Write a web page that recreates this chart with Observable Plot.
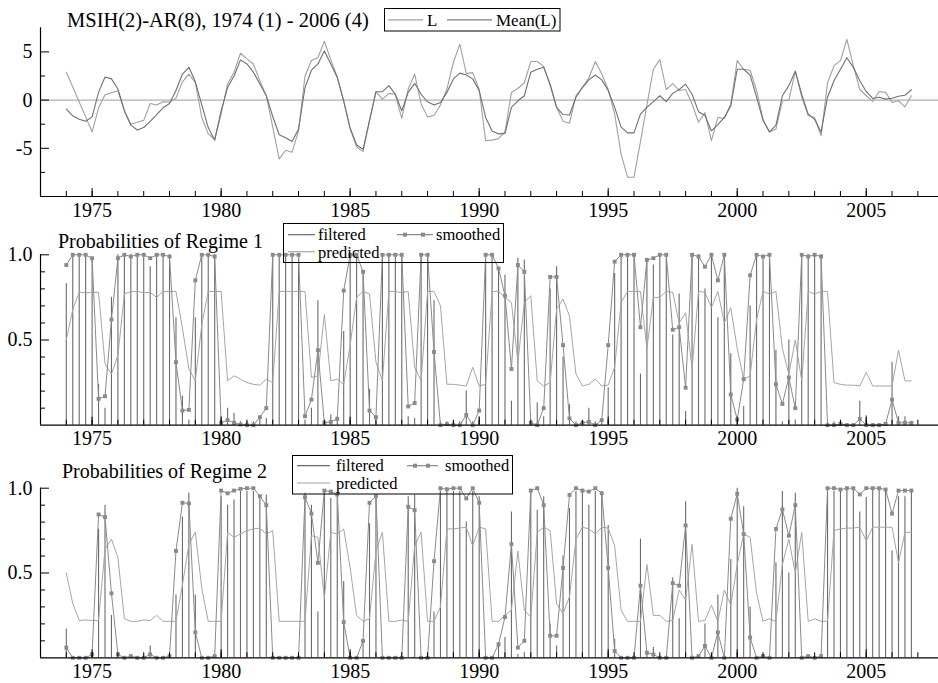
<!DOCTYPE html>
<html><head><meta charset="utf-8">
<script src="https://cdn.jsdelivr.net/npm/d3@7"></script>
<script src="https://cdn.jsdelivr.net/npm/@observablehq/plot@0.6"></script>
<style>
body{margin:0;background:#fff;}
#wrap{position:relative;width:938px;height:683px;overflow:hidden;background:#fff;font-family:'Liberation Serif','DejaVu Serif',serif;}
#wrap svg{position:absolute;left:0;display:block;}
#wrap svg text{font-family:'Liberation Serif','DejaVu Serif',serif;}
</style></head>
<body><div id="wrap"></div>
<script>
// quarterly data 1974(1) - 2006(4)
const startYear = 1974;
const L = [2.88,1.35,-0.2,-1.74,-3.3,-0.83,0.56,0.76,0.97,-1.1,-2.5,-2.3,-2.1,-0.35,-0.5,-0.17,-0.2,0.2,1.9,2.7,1.8,-1.8,-3.5,-4.06,-1.46,1.67,2.9,4.86,4.27,3.75,2.0,0.45,-2.8,-6.1,-5.2,-5.4,-3.2,2.5,4.1,4.4,6.1,4.2,2.4,-0.1,-3.0,-4.85,-5.35,-2.15,0.87,0.1,0.7,0.6,-1.9,1.15,2.7,-0.4,-1.74,-1.6,-0.5,1.15,3.9,5.8,2.75,2.85,1.1,-4.2,-4.15,-4.0,-3.3,0.8,1.2,1.8,4.0,4.0,3.5,1.5,-0.75,-2.2,-2.4,0.45,1.3,2.3,4.0,2.7,1.1,-1.45,-5.6,-8.0,-8.0,-4.3,-0.5,3.2,4.2,1.1,1.7,1.0,1.1,-0.4,-2.3,-1.3,-4.2,-1.8,-1.9,-0.4,4.1,3.2,3.1,1.0,-2.0,-3.3,-3.0,-0.07,0.0,3.0,0.3,-1.6,-1.8,-3.7,1.8,3.55,4.1,6.3,3.55,1.1,0.45,-0.14,0.9,0.8,-0.24,-0.07,-0.7,0.45];
const meanL = [-0.94,-1.63,-1.98,-2.2,-1.74,0.8,2.4,2.2,1.15,-1.1,-2.6,-3.1,-2.85,-2.2,-1.5,-0.8,-0.35,1.0,2.7,3.4,1.9,-0.5,-2.85,-4.17,-1.1,1.3,2.5,4.17,3.75,2.9,1.67,0.45,-1.7,-3.6,-3.9,-4.3,-3.0,1.3,3.1,3.75,5.1,3.75,2.35,-0.1,-2.9,-4.65,-5.1,-2.1,0.87,0.87,1.5,0.6,-1.1,0.8,1.74,0.6,-0.17,-0.5,-0.25,0.8,2.2,2.8,2.6,2.2,1.0,-1.8,-3.2,-3.5,-3.45,-0.75,-0.07,0.45,2.9,3.2,3.4,1.65,-0.75,-1.5,-1.55,0.3,1.3,2.1,2.6,2.1,1.0,-0.75,-2.8,-3.4,-3.4,-1.45,-0.75,-0.15,0.45,-0.15,0.7,1.1,1.65,0.6,-1.2,-1.6,-3.2,-2.55,-1.8,-0.6,3.2,3.2,2.6,0.3,-2.1,-3.3,-2.6,0.45,1.5,3.0,0.6,-1.45,-2.0,-3.3,0.3,2.0,3.2,4.4,3.4,2.0,0.9,0.17,0.3,0.1,0.2,0.4,0.5,1.07];

// Regime 1 probabilities
const filtered1 = [0.83,1,1,1,0.97,0.24,0.1,0.75,1,1,1,1,1,0.93,1,1,1,0.63,0.17,0.03,0.63,1,1,1,0.05,0.1,0.07,0.02,0.02,0.02,0.05,0.04,1,1,1,1,1,0.03,0.1,0.73,0.02,0.06,0.05,0.55,1,1,0.9,0.21,0.05,1,1,1,1,0.05,0.04,1,1,0.73,0.02,0.02,0.02,0.02,0.2,0.02,0.05,1,1,0.92,0.88,0.14,0.98,0.97,0.02,0.13,0.05,0.8,0.93,0.4,0.12,0.02,0.02,0.1,0.02,0.02,0.22,0.89,1,1,1,0.3,0.98,0.94,1,1,0.53,0.77,0.08,1,1,0.8,1,0.63,1,0.42,0.0,0.11,0.7,1,0.98,1,0.44,0.02,0.5,0.03,1,1,1,1,0.02,0.02,0.02,0.01,0.01,0.14,0.055,0.01,0.01,0.01,0.37,0.05,0.05,0.02];
const predicted1 = [0.5,0.68,0.78,0.777,0.78,0.78,0.36,0.3,0.41,0.77,0.785,0.785,0.777,0.78,0.75,0.785,0.785,0.785,0.57,0.33,0.26,0.59,0.785,0.785,0.785,0.26,0.29,0.27,0.25,0.24,0.235,0.27,0.25,0.785,0.785,0.785,0.785,0.785,0.28,0.29,0.65,0.26,0.27,0.24,0.47,0.75,0.785,0.77,0.37,0.26,0.785,0.785,0.777,0.785,0.34,0.26,0.785,0.785,0.7,0.24,0.24,0.235,0.23,0.34,0.23,0.24,0.785,0.785,0.75,0.72,0.37,0.72,0.76,0.26,0.23,0.25,0.68,0.74,0.64,0.3,0.23,0.24,0.27,0.23,0.235,0.34,0.72,0.785,0.785,0.785,0.45,0.75,0.75,0.785,0.78,0.6,0.66,0.33,0.785,0.78,0.69,0.785,0.6,0.69,0.45,0.27,0.29,0.62,0.785,0.77,0.785,0.45,0.3,0.5,0.26,0.785,0.77,0.785,0.785,0.25,0.24,0.235,0.235,0.23,0.31,0.23,0.23,0.23,0.23,0.44,0.26,0.26];
const smoothed1 = [0.94,1,1,1,0.98,0.155,0.17,0.62,0.98,1,0.99,1,1,0.98,1,1,0.99,0.37,0.086,0.09,0.85,1,1,0.99,0.014,0.03,0.014,0.004,0,0,0.047,0.1,1,1,1,1,1,0.053,0.15,0.44,0.014,0.02,0.037,0.79,1,1,0.9,0.086,0.047,1,1,1,1,0.11,0.13,1,1,0.43,0,0.006,0,0,0.06,0,0.086,1,1,0.92,0.76,0.33,0.94,0.9,0.014,0,0.1,0.87,0.87,0.47,0.04,0,0.014,0.02,0,0.03,0.47,0.96,1,1,1,0.575,0.97,0.98,1,1,0.56,0.575,0.22,1,0.99,0.93,1,0.85,1,0.18,0.033,0.27,0.88,1,0.99,1,0.24,0.125,0.28,0.1,1,0.99,1,0.99,0,0,0.008,0,0,0.037,0,0,0,0.008,0.15,0.014,0.014,0.014];

// Regime 2 probabilities
const filtered2 = [0.17,0,0,0,0.03,0.76,0.9,0.25,0,0,0,0,0,0.07,0,0,0,0.37,0.83,0.97,0.37,0,0,0,0.95,0.9,0.93,0.98,0.98,0.98,0.95,0.96,0,0,0,0,0,0.97,0.9,0.27,0.98,0.94,0.95,0.45,0,0,0.1,0.79,0.95,0,0,0,0,0.95,0.96,0,0,0.27,0.98,0.98,0.98,0.98,0.8,0.98,0.95,0,0,0.08,0.12,0.86,0.02,0.03,0.98,0.87,0.95,0.2,0.07,0.6,0.88,0.98,0.98,0.9,0.98,0.98,0.78,0.11,0,0,0,0.7,0.02,0.06,0,0,0.47,0.23,0.92,0,0,0.2,0,0.37,0,0.58,1,0.89,0.3,0,0.02,0,0.56,0.98,0.5,0.97,0,0,0,0,0.98,0.98,0.98,0.99,0.99,0.86,0.945,0.99,0.99,0.99,0.63,0.95,0.95,0.98];
const predicted2 = [0.5,0.32,0.22,0.223,0.22,0.22,0.64,0.7,0.59,0.23,0.215,0.215,0.223,0.22,0.25,0.215,0.215,0.215,0.43,0.67,0.74,0.41,0.215,0.215,0.215,0.74,0.71,0.73,0.75,0.76,0.765,0.73,0.75,0.215,0.215,0.215,0.215,0.215,0.72,0.71,0.35,0.74,0.73,0.76,0.53,0.25,0.215,0.23,0.63,0.74,0.215,0.215,0.223,0.215,0.66,0.74,0.215,0.215,0.3,0.76,0.76,0.765,0.77,0.66,0.77,0.76,0.215,0.215,0.25,0.28,0.63,0.28,0.24,0.74,0.77,0.75,0.32,0.26,0.36,0.7,0.77,0.76,0.73,0.77,0.765,0.66,0.28,0.215,0.215,0.215,0.55,0.25,0.25,0.215,0.22,0.4,0.34,0.67,0.215,0.22,0.31,0.215,0.4,0.31,0.55,0.73,0.71,0.38,0.215,0.23,0.215,0.55,0.7,0.5,0.74,0.215,0.23,0.215,0.215,0.75,0.76,0.765,0.765,0.77,0.69,0.77,0.77,0.77,0.77,0.56,0.74,0.74];
const smoothed2 = [0.06,0,0,0,0.02,0.845,0.83,0.38,0.02,0,0.01,0,0,0.02,0,0,0.01,0.63,0.914,0.91,0.15,0,0,0.01,0.986,0.97,0.986,0.996,1,1,0.953,0.9,0,0,0,0,0,0.947,0.85,0.56,0.986,0.98,0.963,0.21,0,0,0.1,0.914,0.953,0,0,0,0,0.89,0.87,0,0,0.57,1,0.994,1,1,0.94,1,0.914,0,0,0.08,0.24,0.67,0.06,0.1,0.986,1,0.9,0.13,0.13,0.53,0.96,1,0.986,0.98,1,0.97,0.53,0.04,0,0,0,0.425,0.03,0.02,0,0,0.44,0.425,0.78,0,0.01,0.07,0,0.15,0,0.82,0.967,0.73,0.12,0,0.01,0,0.76,0.875,0.72,0.9,0,0.01,0,0.01,1,1,0.992,1,1,0.963,1,1,1,0.992,0.85,0.986,0.986,0.986];

// axis ticks and labels
const yearLabels = [1975, 1980, 1985, 1990, 1995, 2000, 2005];
const yearMinor = d3.range(1974, 2008);
const levelTicks = [-5, 0, 5];
const levelMinor = [-7.5, -2.5, 2.5];
const probTicks = [0.5, 1.0];
const probMinor = [0.1, 0.2, 0.3, 0.4, 0.6, 0.7, 0.8, 0.9];

const mainTitle = "MSIH(2)-AR(8), 1974 (1) - 2006 (4)";
const regimeTitles = ["Probabilities of Regime 1", "Probabilities of Regime 2"];

const t = L.map((_, i) => startYear + i / 4);
const levels = t.map((x, i) => ({t: x, L: L[i], M: meanL[i]}));
const reg = (f, p, s) => t.map((x, i) => ({t: x, f: f[i], p: p[i], s: s[i]}));
const reg1 = reg(filtered1, predicted1, smoothed1);
const reg2 = reg(filtered2, predicted2, smoothed2);

const W = 938, ML = 40, MR = 0;
const FONT = "'Liberation Serif', 'DejaVu Serif', serif";

function panel({top, height, mt, mb, yDomain, ticks, minor, fmt, marks}) {
  const plotH = height - mt - mb, plotW = W - ML - MR;
  const svg = Plot.plot({
    width: W, height, marginLeft: ML, marginRight: MR, marginTop: mt, marginBottom: mb,
    x: {domain: [1973, 2007.8], label: null},
    y: {domain: yDomain, label: null},
    style: {fontFamily: FONT, fontSize: "20px", color: "#000", background: "transparent", overflow: "visible"},
    marks: [
      ...marks,
      Plot.ruleX(yearMinor, {stroke: "#000", strokeWidth: 1, insetTop: plotH - 5}),
      Plot.ruleX(yearLabels, {stroke: "#000", strokeWidth: 1, insetTop: plotH - 8}),
      Plot.ruleY(minor, {stroke: "#000", strokeWidth: 1, insetRight: plotW - 5}),
      Plot.ruleY(ticks, {stroke: "#000", strokeWidth: 1, insetRight: plotW - 9}),
      Plot.ruleX([1973], {stroke: "#000", strokeWidth: 1.2}),
      Plot.ruleY([yDomain[0]], {stroke: "#000", strokeWidth: 1.2}),
      Plot.axisX(yearLabels, {tickSize: 0, tickPadding: 6, tickFormat: d => String(d), fontSize: 20, label: null}),
      Plot.axisY(ticks, {tickSize: 0, tickPadding: 8, tickFormat: fmt, fontSize: 20, label: null})
    ]
  });
  svg.style.top = top + "px";
  return svg;
}

function probMarks(data) {
  return [
    Plot.ruleX(data, {x: "t", y1: 0, y2: "f", stroke: "#6a6a6a", strokeWidth: 1.1}),
    Plot.line(data, {x: "t", y: "p", stroke: "#a6a6a6", strokeWidth: 1}),
    Plot.line(data, {x: "t", y: "s", stroke: "#8a8a8a", strokeWidth: 1}),
    Plot.dot(data, {x: "t", y: "s", symbol: "square", r: 2.2, fill: "#8a8a8a", stroke: "none"})
  ];
}

const wrap = document.getElementById("wrap");
wrap.appendChild(panel({
  top: 0, height: 228, mt: 27.3, mb: 32, yDomain: [-10, 7.5], ticks: levelTicks, minor: levelMinor,
  fmt: d => String(d),
  marks: [
    Plot.ruleY([0], {stroke: "#b0b0b0", strokeWidth: 1.2}),
    Plot.line(levels, {x: "t", y: "L", stroke: "#a0a0a0", strokeWidth: 1.1}),
    Plot.line(levels, {x: "t", y: "M", stroke: "#707070", strokeWidth: 1.1})
  ]
}));
wrap.appendChild(panel({
  top: 228, height: 226, mt: 26.3, mb: 29.3, yDomain: [0, 1], ticks: probTicks, minor: probMinor,
  fmt: d => d.toFixed(1), marks: probMarks(reg1)
}));
wrap.appendChild(panel({
  top: 454, height: 229, mt: 33.7, mb: 25.7, yDomain: [0, 1], ticks: probTicks, minor: probMinor,
  fmt: d => d.toFixed(1), marks: probMarks(reg2)
}));

// titles and legends overlay
const NS = "http://www.w3.org/2000/svg";
const ov = document.createElementNS(NS, "svg");
ov.setAttribute("width", W); ov.setAttribute("height", 683);
ov.style.top = "0px"; ov.style.pointerEvents = "none";
wrap.appendChild(ov);
function el(name, attrs, text) {
  const e = document.createElementNS(NS, name);
  for (const k in attrs) e.setAttribute(k, attrs[k]);
  if (text != null) e.textContent = text;
  ov.appendChild(e);
  return e;
}
function txt(x, y, s, size) {
  const e = el("text", {x, y, "font-size": size, fill: "#000"}, s);
  e.style.fontFamily = FONT;
  return e;
}
function seg(x1, x2, y, stroke) {
  el("line", {x1, x2, y1: y, y2: y, stroke, "stroke-width": 1.2});
}
function sq(x, y, fill) {
  el("rect", {x: x - 2, y: y - 2, width: 4, height: 4, fill});
}

// top panel
txt(67, 27.3, mainTitle, 20.5);
el("rect", {x: 384.5, y: 8.5, width: 175.5, height: 22.5, fill: "none", stroke: "#000", "stroke-width": 1});
seg(388, 423, 19.8, "#a0a0a0");
txt(427, 25.8, "L", 17);
seg(447, 492, 19.8, "#808080");
txt(496, 25.8, "Mean(L)", 17);

// regime legends
function regimeLegend(bx, by, bw, bh, s1x1, s1x2, tx, r1b, r2b, smx1, smx2, smtx) {
  el("rect", {x: bx + 0.5, y: by + 0.5, width: bw, height: bh, fill: "none", stroke: "#000", "stroke-width": 1});
  seg(s1x1, s1x2, r1b - 4.8, "#6a6a6a");
  txt(tx, r1b, "filtered", 16.5);
  seg(s1x1, s1x2, r2b - 5.8, "#a6a6a6");
  txt(tx, r2b, "predicted", 16.5);
  seg(smx1, smx2, r1b - 4.8, "#8a8a8a");
  sq(smx1 + 8, r1b - 4.8, "#8a8a8a");
  sq(smx2 - 10, r1b - 4.8, "#8a8a8a");
  txt(smtx, r1b, "smoothed", 16.5);
}
txt(58, 247.5, regimeTitles[0], 20);
regimeLegend(283, 223, 220, 39, 288, 315, 318, 239.5, 257.5, 397, 433, 436);
txt(62, 478.3, regimeTitles[1], 20);
regimeLegend(292, 455, 220, 38.5, 297, 330, 336, 470.5, 488.8, 407, 438, 445);
</script></body></html>
